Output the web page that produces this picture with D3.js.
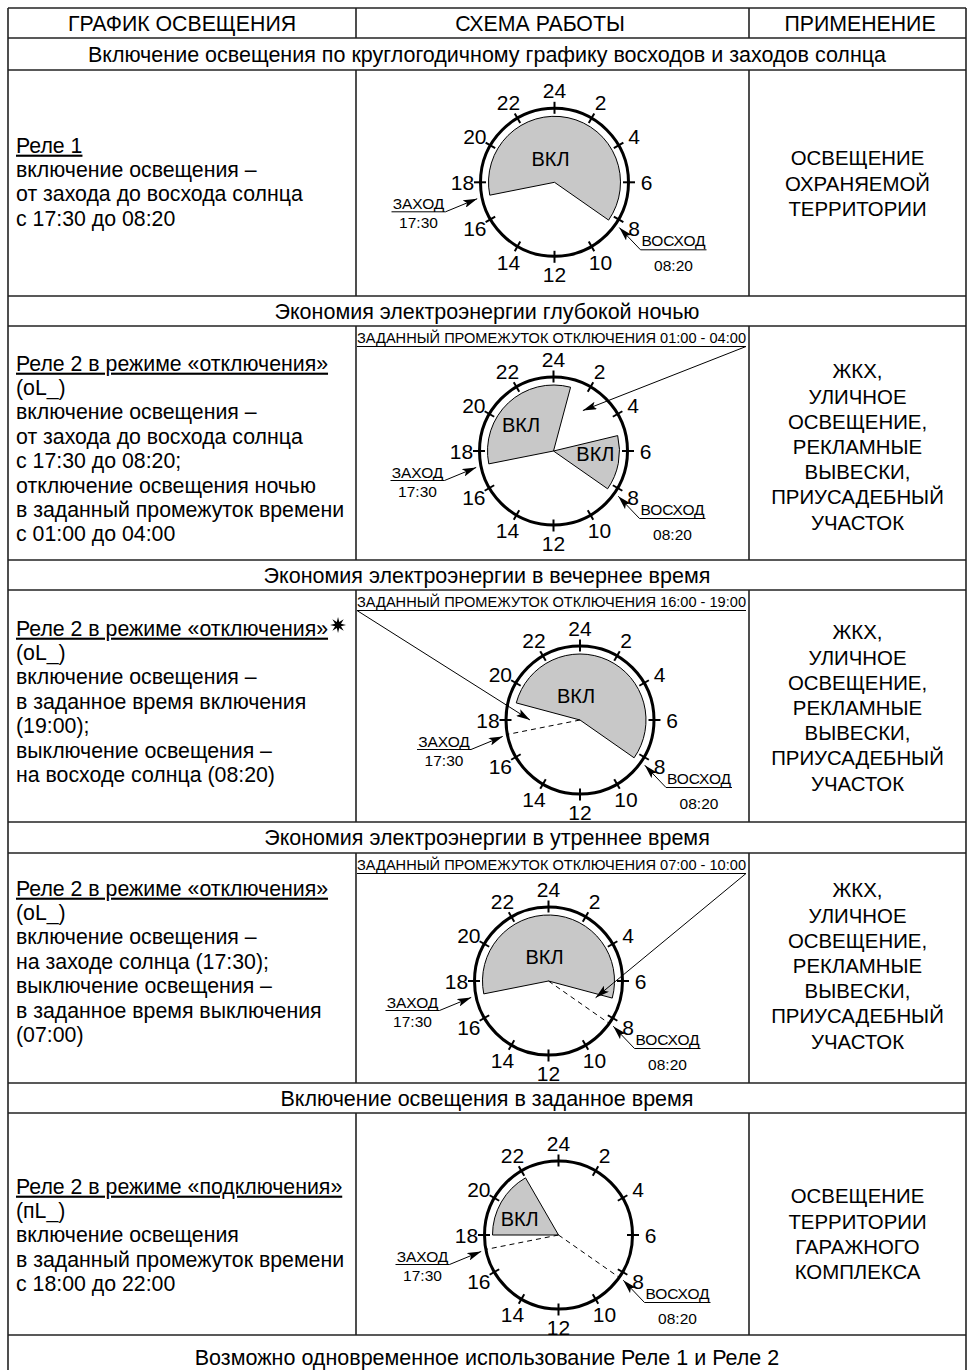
<!DOCTYPE html>
<html><head><meta charset="utf-8">
<script src="https://cdn.jsdelivr.net/npm/d3@7"></script>
<style>body{margin:0;background:#fff} svg{display:block}</style>
</head><body><svg id="c" width="969" height="1370"></svg>
<script>
// ---------- DATA ----------
const headers = ["ГРАФИК ОСВЕЩЕНИЯ", "СХЕМА РАБОТЫ", "ПРИМЕНЕНИЕ"];
const sectionTitles = [
  "Включение освещения по круглогодичному графику восходов и заходов солнца",
  "Экономия электроэнергии глубокой ночью",
  "Экономия электроэнергии в вечернее время",
  "Экономия электроэнергии в утреннее время",
  "Включение освещения в заданное время",
  "Возможно одновременное использование Реле 1 и Реле 2"
];
const modeTexts = [
  ["Реле 1", "включение освещения –", "от захода до восхода солнца", "с 17:30 до 08:20"],
  ["Реле 2 в режиме «отключения»", "(oL_)", "включение освещения –", "от захода до восхода солнца", "с 17:30 до 08:20;", "отключение освещения ночью", "в заданный промежуток времени", "с 01:00 до 04:00"],
  ["Реле 2 в режиме «отключения»", "(oL_)", "включение освещения –", "в заданное время включения", "(19:00);", "выключение освещения –", "на восходе солнца (08:20)"],
  ["Реле 2 в режиме «отключения»", "(oL_)", "включение освещения –", "на заходе солнца (17:30);", "выключение освещения –", "в заданное время выключения", "(07:00)"],
  ["Реле 2 в режиме «подключения»", "(пL_)", "включение освещения", "в заданный промежуток времени", "с 18:00 до 22:00"]
];
const starredRow = [false, false, true, false, false];
const applications = [
  ["ОСВЕЩЕНИЕ", "ОХРАНЯЕМОЙ", "ТЕРРИТОРИИ"],
  ["ЖКХ,", "УЛИЧНОЕ", "ОСВЕЩЕНИЕ,", "РЕКЛАМНЫЕ", "ВЫВЕСКИ,", "ПРИУСАДЕБНЫЙ", "УЧАСТОК"],
  ["ЖКХ,", "УЛИЧНОЕ", "ОСВЕЩЕНИЕ,", "РЕКЛАМНЫЕ", "ВЫВЕСКИ,", "ПРИУСАДЕБНЫЙ", "УЧАСТОК"],
  ["ЖКХ,", "УЛИЧНОЕ", "ОСВЕЩЕНИЕ,", "РЕКЛАМНЫЕ", "ВЫВЕСКИ,", "ПРИУСАДЕБНЫЙ", "УЧАСТОК"],
  ["ОСВЕЩЕНИЕ", "ТЕРРИТОРИИ", "ГАРАЖНОГО", "КОМПЛЕКСА"]
];
// ON intervals (hours, start -> end, clockwise) as drawn
const onIntervals = [
  [[17.25, 8.33]],
  [[17.25, 1.0], [5.1, 8.33]],
  [[19.0, 8.33]],
  [[17.25, 7.0]],
  [[18.0, 22.0]]
];
const dashedHours = [[], [], [17.25], [8.33], [17.25, 8.33]];
const offLabels = [null,
  "ЗАДАННЫЙ ПРОМЕЖУТОК ОТКЛЮЧЕНИЯ 01:00 - 04:00",
  "ЗАДАННЫЙ ПРОМЕЖУТОК ОТКЛЮЧЕНИЯ 16:00 - 19:00",
  "ЗАДАННЫЙ ПРОМЕЖУТОК ОТКЛЮЧЕНИЯ 07:00 - 10:00",
  null];
const offArrowHours = [null, 2.4, 18.0, 7.3, null];
const offArrowSide = [null, "end", "start", "end", null];
const tickHours = [0, 2, 4, 6, 8, 10, 12, 14, 16, 18, 20, 22];
const tickLabels = ["24", "2", "4", "6", "8", "10", "12", "14", "16", "18", "20", "22"];
const sunsetHour = 17.25, sunriseHour = 8.33;
const sunsetLabel = ["ЗАХОД", "17:30"];
const sunriseLabel = ["ВОСХОД", "08:20"];
const onLabel = "ВКЛ";

// ---------- LAYOUT ----------
const FONT = "'Liberation Sans', Arial, sans-serif";
const BODY = 21.3, RIGHT = 20.4, HEAD = 21.3, SECT = 21.5;
const colX = [8, 356, 749, 966];
const headerRow = [8, 38];
const sectionRows = [[38, 70], [296, 326], [560, 590], [822, 853], [1083, 1113], [1335, 1380]];
const contentRows = [[70, 296], [326, 560], [590, 822], [853, 1083], [1113, 1335]];
const clockDx = [2, 1, 27.5, -4, 6];
const clockDy = [-0.7, 8, 14, 13, 11];
const leftFirst = [75, 37, 38, 35, 73];
const rightFirst = [88, 45, 42, 37, 83];
const R = 74, PR = 66, LR = 92;

const svg = d3.select("#c");
const defs = svg.append("defs");
defs.append("marker").attr("id", "ah").attr("viewBox", "0 0 14 8")
  .attr("refX", 14).attr("refY", 4).attr("markerWidth", 14).attr("markerHeight", 8)
  .attr("markerUnits", "userSpaceOnUse").attr("orient", "auto")
  .append("path").attr("d", "M0,0 L14,4 L0,8 L3,4 Z").attr("fill", "#000");

const ang = d3.scaleLinear().domain([0, 24]).range([0, 2 * Math.PI]);
const pt = (cx, cy, h, r) => [cx + r * Math.sin(ang(h)), cy - r * Math.cos(ang(h))];

// ---------- TABLE GRID ----------
const grid = svg.append("g").attr("stroke", "#222").attr("stroke-width", 1.6).attr("fill", "none");
const hl = [8, 38, 70, 296, 326, 560, 590, 822, 853, 1083, 1113, 1335];
hl.forEach(y => grid.append("line").attr("x1", colX[0]).attr("x2", colX[3]).attr("y1", y).attr("y2", y));
grid.append("line").attr("x1", colX[0]).attr("x2", colX[0]).attr("y1", 8).attr("y2", 1370);
grid.append("line").attr("x1", colX[3]).attr("x2", colX[3]).attr("y1", 8).attr("y2", 1370);
[headerRow, ...contentRows].forEach(([y0, y1]) => {
  [colX[1], colX[2]].forEach(x => grid.append("line").attr("x1", x).attr("x2", x).attr("y1", y0).attr("y2", y1));
});

// ---------- HEADERS ----------
const headerCx = [182, 540, 860];
headers.forEach((t, i) => {
  svg.append("text").attr("x", headerCx[i]).attr("y", (headerRow[0] + headerRow[1]) / 2).attr("dy", "0.36em")
    .attr("text-anchor", "middle").attr("font-family", FONT).attr("font-size", HEAD).text(t);
});
sectionTitles.forEach((t, i) => {
  const [y0, y1] = sectionRows[i];
  const yc = i === 5 ? 1357 : (y0 + y1) / 2;
  svg.append("text").attr("x", (colX[0] + colX[3]) / 2).attr("y", yc).attr("dy", "0.36em")
    .attr("text-anchor", "middle").attr("font-family", FONT).attr("font-size", SECT).text(t);
});

// ---------- ROWS ----------
contentRows.forEach(([y0, y1], i) => {
  // left text
  const lg = svg.append("g").attr("font-family", FONT).attr("font-size", BODY);
  modeTexts[i].forEach((t, k) => {
    const tx = lg.append("text").attr("x", 16).attr("y", y0 + leftFirst[i] + k * 24.4).attr("dy", "0.36em").text(t);
    if (k === 0) tx.style("text-decoration", "underline");
    if (k === 0 && starredRow[i]) {
      const bb = tx.node().getBBox();
      const sx = bb.x + bb.width + 10, sy = y0 + leftFirst[i] - 3;
      const star = d3.range(16).map(j => {
        const a = j * Math.PI / 8, r = j % 2 ? 3.2 : 8;
        return [sx + r * Math.sin(a), sy - r * Math.cos(a)];
      });
      lg.append("path").attr("d", d3.line()(star) + "Z").attr("fill", "#000");
    }
  });
  // right text
  const rg = svg.append("g").attr("font-family", FONT).attr("font-size", RIGHT).attr("text-anchor", "middle");
  applications[i].forEach((t, k) => {
    rg.append("text").attr("x", (colX[2] + colX[3]) / 2).attr("y", y0 + rightFirst[i] + k * 25.2).attr("dy", "0.36em").text(t);
  });

  // clock
  const cx = (colX[1] + colX[2]) / 2 + clockDx[i];
  const cy = (y0 + y1) / 2 + clockDy[i];
  const g = svg.append("g");
  const arc = d3.arc().innerRadius(0).outerRadius(PR);
  onIntervals[i].forEach(([s, e]) => {
    const ee = e < s ? e + 24 : e;
    g.append("path").attr("transform", `translate(${cx},${cy})`)
      .attr("d", arc({ startAngle: ang(s), endAngle: ang(ee) }))
      .attr("fill", "#c8c8c8").attr("stroke", "#000").attr("stroke-width", 1);
    const span = ee - s;
    let lx, ly;
    if (span > 12) { lx = cx - 4; ly = cy - 24; }
    else { [lx, ly] = pt(cx, cy, (s + ee) / 2 - 0.5, 42); }
    g.append("text").attr("x", lx).attr("y", ly).attr("dy", "0.36em").attr("text-anchor", "middle")
      .attr("font-family", FONT).attr("font-size", 20).text(onLabel);
  });
  dashedHours[i].forEach(h => {
    const [x2, y2] = pt(cx, cy, h, R);
    g.append("line").attr("x1", cx).attr("y1", cy).attr("x2", x2).attr("y2", y2)
      .attr("stroke", "#000").attr("stroke-width", 1).attr("stroke-dasharray", "5,4");
  });
  g.append("circle").attr("cx", cx).attr("cy", cy).attr("r", R).attr("fill", "none").attr("stroke", "#000").attr("stroke-width", 3);
  tickHours.forEach((h, k) => {
    const major = h % 6 === 0;
    const [x1, yA] = pt(cx, cy, h, R - 5.5), [x2, yB] = pt(cx, cy, h, R + (major ? 6.5 : 5.5));
    g.append("line").attr("x1", x1).attr("y1", yA).attr("x2", x2).attr("y2", yB).attr("stroke", "#000").attr("stroke-width", 2);
    const [tx, ty] = pt(cx, cy, h, LR);
    g.append("text").attr("x", tx).attr("y", ty).attr("dy", "0.36em").attr("text-anchor", "middle")
      .attr("font-family", FONT).attr("font-size", 21).text(tickLabels[k]);
  });
  // sunset annotation
  const sg = g.append("g").attr("font-family", FONT).attr("font-size", 15.5).attr("text-anchor", "middle");
  sg.append("text").attr("x", cx - 136).attr("y", cy + 21).attr("dy", "0.36em").text(sunsetLabel[0]);
  sg.append("text").attr("x", cx - 136).attr("y", cy + 40).attr("dy", "0.36em").text(sunsetLabel[1]);
  g.append("line").attr("x1", cx - 163).attr("x2", cx - 109).attr("y1", cy + 29.5).attr("y2", cy + 29.5).attr("stroke", "#000").attr("stroke-width", 1);
  const [sx, sy] = pt(cx, cy, sunsetHour - 0.05, 79);
  g.append("line").attr("x1", cx - 109).attr("y1", cy + 29.5).attr("x2", sx).attr("y2", sy)
    .attr("stroke", "#000").attr("stroke-width", 1).attr("marker-end", "url(#ah)");
  // sunrise annotation
  sg.append("text").attr("x", cx + 119).attr("y", cy + 58).attr("dy", "0.36em").text(sunriseLabel[0]);
  sg.append("text").attr("x", cx + 119).attr("y", cy + 83).attr("dy", "0.36em").text(sunriseLabel[1]);
  g.append("line").attr("x1", cx + 86).attr("x2", cx + 152).attr("y1", cy + 67.5).attr("y2", cy + 67.5).attr("stroke", "#000").attr("stroke-width", 1);
  const [rx, ry] = pt(cx, cy, sunriseHour, 79);
  g.append("line").attr("x1", cx + 86).attr("y1", cy + 67.5).attr("x2", rx).attr("y2", ry)
    .attr("stroke", "#000").attr("stroke-width", 1).attr("marker-end", "url(#ah)");

  // off-interval label + arrow
  if (offLabels[i]) {
    const lx0 = colX[1] + 1, lx1 = colX[2] - 3;
    svg.append("text").attr("x", lx0).attr("y", y0 + 17).attr("font-family", FONT).attr("font-size", 14)
      .attr("textLength", lx1 - lx0).attr("lengthAdjust", "spacingAndGlyphs").text(offLabels[i]);
    svg.append("line").attr("x1", lx0).attr("x2", lx1).attr("y1", y0 + 20.5).attr("y2", y0 + 20.5).attr("stroke", "#000").attr("stroke-width", 1);
    const [ax, ay] = pt(cx, cy, offArrowHours[i], 50);
    const fx = offArrowSide[i] === "end" ? lx1 : lx0;
    svg.append("line").attr("x1", fx).attr("y1", y0 + 20.5).attr("x2", ax).attr("y2", ay)
      .attr("stroke", "#000").attr("stroke-width", 1).attr("marker-end", "url(#ah)");
  }
});
</script></body></html>
